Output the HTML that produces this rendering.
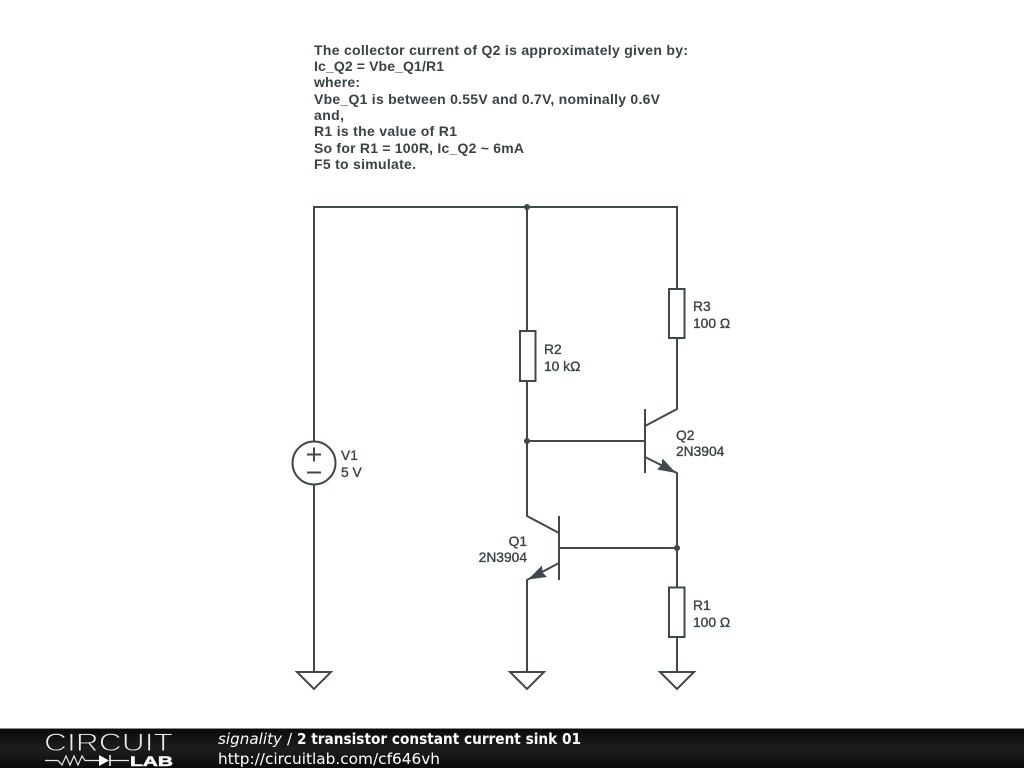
<!DOCTYPE html>
<html>
<head>
<meta charset="utf-8">
<style>
html,body{margin:0;padding:0;background:#fff;width:1024px;height:768px;overflow:hidden}
svg{display:block}
.n{font-family:"Liberation Sans",sans-serif;font-size:13.8px;fill:#3a4246;stroke:#3a4246;stroke-width:.35px}
.t{font-family:"Liberation Sans",sans-serif;font-size:14px;font-weight:bold;fill:#3a4246}
.f{font-family:"DejaVu Sans",sans-serif;font-size:15.3px;fill:#fff}
</style>
</head>
<body>
<svg width="1024" height="768" viewBox="0 0 1024 768" xmlns="http://www.w3.org/2000/svg">
<defs>
<linearGradient id="g" x1="0" y1="0" x2="0" y2="1">
<stop offset="0" stop-color="#0a0a0a"/>
<stop offset=".5" stop-color="#1e1e1e"/>
<stop offset="1" stop-color="#0a0a0a"/>
</linearGradient>
</defs>
<rect width="1024" height="768" fill="#fff"/>

<text class="t" x="314" y="55" textLength="374">The collector current of Q2 is approximately given by:</text>
<text class="t" x="314" y="71" textLength="130">Ic_Q2 = Vbe_Q1/R1</text>
<text class="t" x="314" y="87" textLength="46">where:</text>
<text class="t" x="314" y="104" textLength="346">Vbe_Q1 is between 0.55V and 0.7V, nominally 0.6V</text>
<text class="t" x="314" y="120" textLength="30">and,</text>
<text class="t" x="314" y="136" textLength="143">R1 is the value of R1</text>
<text class="t" x="314" y="153" textLength="210">So for R1 = 100R, Ic_Q2 ~ 6mA</text>
<text class="t" x="314" y="169" textLength="102">F5 to simulate.</text>

<g fill="none" stroke="#3f484d" stroke-width="2">
<path d="M314 442V207H677V289"/>
<path d="M314 485V672"/>
<path d="M527 207V331"/>
<path d="M527 381V516L559 533"/>
<path d="M527 441H645"/>
<path d="M677 338V409L645 426"/>
<path d="M645 457L677 473V587"/>
<path d="M559 548H677"/>
<path d="M559 563L527 580V672"/>
<path d="M677 637V672"/>
<path d="M645 409V473"/>
<path d="M559 516V580"/>
<rect x="669" y="289" width="15.500" height="49" fill="#fff"/>
<rect x="520" y="331" width="15.500" height="50" fill="#fff"/>
<rect x="669" y="587.500" width="15.500" height="49.500" fill="#fff"/>
<circle cx="314" cy="463" r="21.500" fill="#fff"/>
<path d="M307 454.500H321M314 447.500V461.500M307 472.500H321"/>
<path d="M297 672H331L314 689Z" fill="#fff"/>
<path d="M510 672H544L527 689Z" fill="#fff"/>
<path d="M660 672H694L677 689Z" fill="#fff"/>
</g>

<g fill="#3f484d">
<circle cx="527" cy="207" r="3"/>
<circle cx="527" cy="441" r="3"/>
<circle cx="677" cy="548" r="3"/>
<path d="M676 473L657 469.500L661.500 465L662.500 458.500Z"/>
<path d="M528 579.500L547 577L542.500 572.500L542 565.500Z"/>
</g>

<text class="n" x="341" y="460">V1</text>
<text class="n" x="341" y="477">5 V</text>
<text class="n" x="544" y="354">R2</text>
<text class="n" x="544" y="371">10 kΩ</text>
<text class="n" x="693" y="311">R3</text>
<text class="n" x="693" y="328">100 Ω</text>
<text class="n" x="693" y="610">R1</text>
<text class="n" x="693" y="627">100 Ω</text>
<text class="n" x="676" y="440">Q2</text>
<text class="n" x="676" y="456">2N3904</text>
<text class="n" x="527" y="546" text-anchor="end">Q1</text>
<text class="n" x="527" y="562" text-anchor="end">2N3904</text>

<rect x="0" y="728" width="1024" height="1" fill="#8a8a8a"/>
<rect x="0" y="729" width="1024" height="39" fill="url(#g)"/>
<text x="44" y="751" font-family="Liberation Sans, sans-serif" font-size="25" textLength="129" lengthAdjust="spacingAndGlyphs" fill="#eee" stroke="#161616" stroke-width=".9">CIRCUIT</text>
<path d="M45 760.500H58L62 765L66 756L70 765L74 756L78 765L82 756L85 760.500H99M110 760.500H129" fill="none" stroke="#e8e8e8" stroke-width="1.200"/>
<path d="M99 755L109 760.500L99 766Z" fill="#fff"/>
<path d="M110 755V766" stroke="#fff" stroke-width="1.500"/>
<text x="130" y="766" font-family="Liberation Sans, sans-serif" font-size="14" font-weight="bold" textLength="43" lengthAdjust="spacingAndGlyphs" fill="#fff" stroke="#fff" stroke-width=".5">LAB</text>
<text class="f" x="218" y="744" font-style="oblique" textLength="64" lengthAdjust="spacingAndGlyphs">signality</text>
<text class="f" x="287" y="744">/</text>
<text class="f" x="297" y="744" font-weight="bold" textLength="284" lengthAdjust="spacingAndGlyphs">2 transistor constant current sink 01</text>
<text class="f" x="218" y="764" textLength="222" lengthAdjust="spacingAndGlyphs">http://circuitlab.com/cf646vh</text>
</svg>
</body>
</html>
